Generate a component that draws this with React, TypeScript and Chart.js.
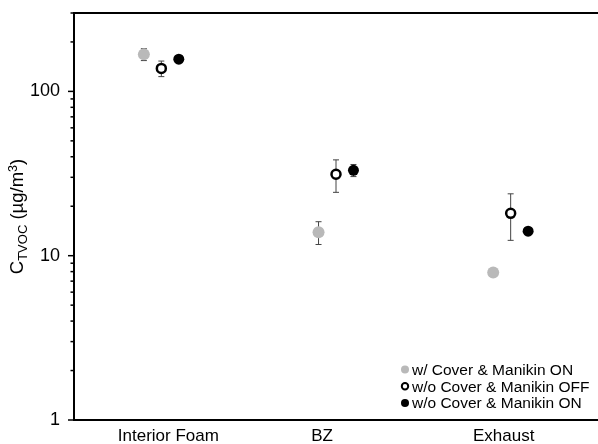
import React, { useEffect, useRef } from "react";
import { Chart, registerables } from "chart.js";

Chart.register(...registerables);

const categories = ["Interior Foam", "BZ", "Exhaust"];
const categoryLabelAt = [1.04, 1.92, 2.96];
const seriesNames = ["w/ Cover & Manikin ON", "w/o Cover & Manikin OFF", "w/o Cover & Manikin ON"];
const coverOnValues = [168, 13.9, 7.9];
const coverOnErrors = [14, 2.2, 0.3];
const noCoverOffValues = [138, 31.3, 18.1];
const noCoverOffErrors = [15, 7, 5.7];
const noCoverOnValues = [157, 33.1, 14.1];
const noCoverOnErrors = [4, 2.8, 0.5];
const seriesOffsets = [-0.1, 0, 0.1];
const yMajorTicks = [1, 10, 100];
const yMax = 300;

const FONT = "'Liberation Sans', Arial, Helvetica, sans-serif";

const seriesValues = [coverOnValues, noCoverOffValues, noCoverOnValues];
const seriesErrors = [coverOnErrors, noCoverOffErrors, noCoverOnErrors];
const seriesStyles = [
  { bg: "#b9b9b9", border: "#b9b9b9", r: 6, bw: 0, lr: 4, lbw: 0 },
  { bg: "#ffffff", border: "#000000", r: 4.5, bw: 2.5, lr: 3.2, lbw: 2 },
  { bg: "#000000", border: "#000000", r: 5.5, bw: 0, lr: 4, lbw: 0 },
];

const yTickValues: number[] = [];
yMajorTicks.forEach((d) => {
  for (let m = 1; m <= 9; m++) {
    const v = m * d;
    if (v <= yMax) yTickValues.push(v);
  }
});

const errorBarPlugin = {
  id: "errorBars",
  beforeDatasetsDraw(chart: any) {
    const ctx = chart.ctx;
    const ys = chart.scales.y;
    const xs = chart.scales.x;
    ctx.save();
    ctx.strokeStyle = "#444";
    ctx.lineWidth = 1;
    chart.data.datasets.forEach((ds: any) => {
      ds.data.forEach((p: any, i: number) => {
        const e = ds.errors[i];
        if (!e) return;
        const px = xs.getPixelForValue(p.x);
        const top = ys.getPixelForValue(p.y + e);
        const bot = ys.getPixelForValue(p.y - e);
        ctx.beginPath();
        ctx.moveTo(px, top);
        ctx.lineTo(px, bot);
        ctx.moveTo(px - 3, top);
        ctx.lineTo(px + 3, top);
        ctx.moveTo(px - 3, bot);
        ctx.lineTo(px + 3, bot);
        ctx.stroke();
      });
    });
    ctx.restore();
  },
};

const decorPlugin = {
  id: "decor",
  afterDraw(chart: any) {
    const ctx = chart.ctx;
    const area = chart.chartArea;
    const ys = chart.scales.y;
    ctx.save();
    // top frame line
    ctx.strokeStyle = "#000";
    ctx.lineWidth = 2;
    ctx.beginPath();
    ctx.moveTo(area.left - 1, area.top);
    ctx.lineTo(area.right, area.top);
    ctx.stroke();
    // y ticks (major and minor), outward
    ctx.lineWidth = 1.5;
    yTickValues.forEach((v) => {
      const py = ys.getPixelForValue(v);
      const len = yMajorTicks.includes(v) ? 6 : 3.5;
      ctx.beginPath();
      ctx.moveTo(area.left - len, py);
      ctx.lineTo(area.left, py);
      ctx.stroke();
    });
    // y title with subscript / superscript
    const parts = [
      { t: "C", size: 18.5, dy: 0 },
      { t: "TVOC", size: 13, dy: 4 },
      { t: " (µg/m", size: 18.5, dy: 0 },
      { t: "3", size: 12.5, dy: -6 },
      { t: ")", size: 18.5, dy: 0 },
    ];
    let total = 0;
    parts.forEach((p) => {
      ctx.font = `${p.size}px ${FONT}`;
      total += ctx.measureText(p.t).width;
    });
    ctx.translate(23, (area.top + area.bottom) / 2);
    ctx.rotate(-Math.PI / 2);
    ctx.fillStyle = "#000";
    ctx.textBaseline = "alphabetic";
    let x = -total / 2;
    parts.forEach((p) => {
      ctx.font = `${p.size}px ${FONT}`;
      ctx.fillText(p.t, x, p.dy);
      x += ctx.measureText(p.t).width;
    });
    ctx.restore();

    // legend in bottom-right of plot
    ctx.save();
    ctx.font = `15.5px ${FONT}`;
    ctx.textBaseline = "middle";
    ctx.fillStyle = "#000";
    const rowH = 16.7;
    const n = chart.data.datasets.length;
    const mx = area.right - 193;
    chart.data.datasets.forEach((ds: any, i: number) => {
      const st = seriesStyles[i];
      const cy = area.bottom - 17 - (n - 1 - i) * rowH;
      ctx.beginPath();
      ctx.arc(mx, cy, st.lr, 0, Math.PI * 2);
      ctx.fillStyle = st.bg;
      ctx.fill();
      if (st.lbw) {
        ctx.lineWidth = st.lbw;
        ctx.strokeStyle = st.border;
        ctx.stroke();
      }
      ctx.fillStyle = "#000";
      ctx.fillText(ds.label, mx + 7, cy + 1);
    });
    ctx.restore();
  },
};

export default function App() {
  const ref = useRef<HTMLCanvasElement>(null);
  useEffect(() => {
    if (!ref.current) return;
    const datasets = seriesNames.map((name, s) => ({
      label: name,
      data: seriesValues[s].map((v, i) => ({ x: i + 1 + seriesOffsets[s], y: v })),
      errors: seriesErrors[s],
      backgroundColor: seriesStyles[s].bg,
      borderColor: seriesStyles[s].border,
      pointRadius: seriesStyles[s].r,
      pointBorderWidth: seriesStyles[s].bw,
      pointHoverRadius: seriesStyles[s].r,
      showLine: false,
    }));
    const chart = new Chart(ref.current, {
      type: "scatter",
      data: { datasets } as any,
      plugins: [errorBarPlugin, decorPlugin],
      options: {
        animation: false,
        responsive: false,
        devicePixelRatio: 1,
        layout: { autoPadding: false, padding: { top: 13, left: 0, right: 0, bottom: 0 } },
        plugins: { legend: { display: false }, tooltip: { enabled: false } },
        scales: {
          x: {
            type: "linear",
            min: 0.5,
            max: 3.5,
            grid: { display: false, drawTicks: false },
            border: { display: true, color: "#000", width: 2 },
            afterBuildTicks: (scale: any) => {
              scale.ticks = categoryLabelAt.map((v) => ({ value: v }));
            },
            afterFit: (scale: any) => {
              scale.height = 24;
              scale.paddingLeft = 0;
              scale.paddingRight = 0;
            },
            ticks: {
              autoSkip: false,
              maxRotation: 0,
              padding: 6,
              color: "#000",
              font: { family: FONT, size: 17 },
              callback: (v: any) => {
                const idx = categoryLabelAt.indexOf(Number(v));
                return idx >= 0 ? categories[idx] : "";
              },
            },
          },
          y: {
            type: "logarithmic",
            min: 1,
            max: yMax,
            grid: { display: false, drawTicks: false },
            border: { display: true, color: "#000", width: 2 },
            afterBuildTicks: (scale: any) => {
              scale.ticks = yTickValues.map((v) => ({ value: v, major: yMajorTicks.includes(v) }));
            },
            afterFit: (scale: any) => {
              scale.width = 74;
              scale.paddingTop = 0;
              scale.paddingBottom = 0;
            },
            ticks: {
              autoSkip: false,
              padding: 14,
              color: "#000",
              font: { family: FONT, size: 18 },
              callback: (v: any) => (yMajorTicks.includes(Number(v)) ? String(v) : ""),
            },
          },
        },
      } as any,
    });
    return () => chart.destroy();
  }, []);
  return (
    <div style={{ position: "fixed", left: 0, top: 0, width: 598, height: 444, background: "#fff" }}>
      <canvas ref={ref} width={598} height={444} style={{ display: "block" }} />
    </div>
  );
}
